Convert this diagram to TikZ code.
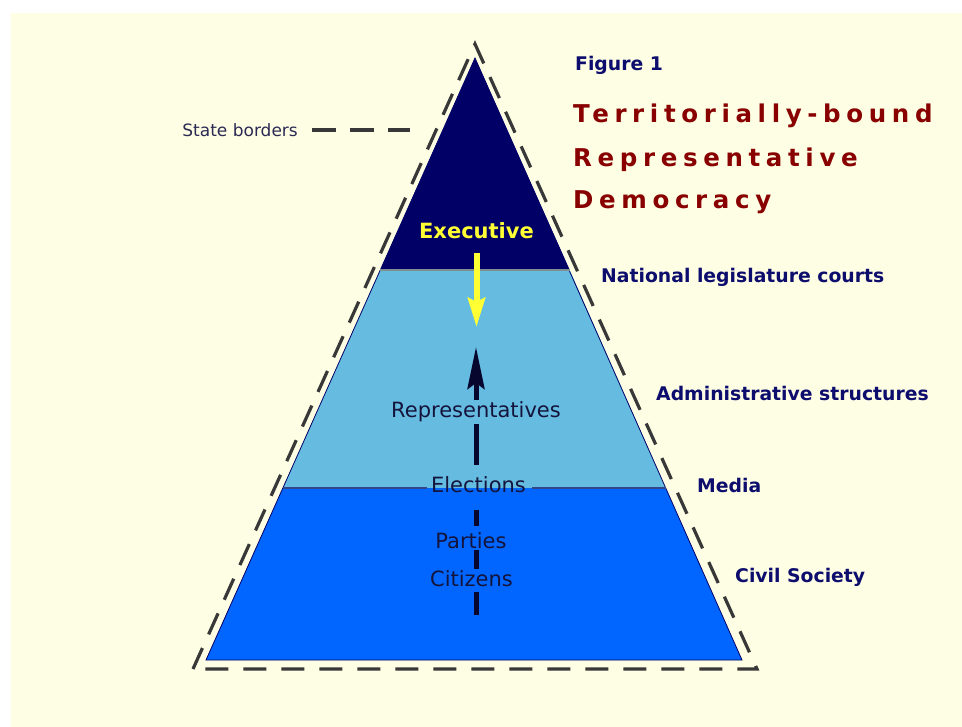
\documentclass[tikz,border=0pt]{standalone}
\usepackage{fontspec}
\setmainfont{DejaVu Sans}
\newfontfamily\titlefont{DejaVu Sans}[LetterSpace=23]
\usetikzlibrary{arrows.meta}
\definecolor{cream}{HTML}{FEFEE4}
\definecolor{navytop}{HTML}{000066}
\definecolor{lightband}{HTML}{66BBE0}
\definecolor{blueband}{HTML}{0066FF}
\definecolor{labelnavy}{HTML}{0D0D6E}
\definecolor{titlered}{HTML}{880000}
\definecolor{innertext}{HTML}{14143C}
\definecolor{dashgray}{HTML}{383838}
\definecolor{sepgray}{HTML}{7F8F8F}
\definecolor{sepblue}{HTML}{33468A}
\definecolor{exyellow}{HTML}{FFFF33}
\definecolor{smalltext}{HTML}{2A2A55}
\definecolor{shaftcol}{HTML}{06062E}
\begin{document}
\begin{tikzpicture}[x=1pt,y=-1pt,
  borderdash/.style={draw=dashgray, line width=3.2pt, dash pattern=on 23pt off 15pt},
  sidelabel/.style={anchor=west, inner sep=0pt, text=labelnavy, font=\fontsize{18.8}{20}\selectfont\bfseries, text height=13.7pt, text depth=0pt},
  innerlabel/.style={inner sep=0pt, text=innertext, font=\fontsize{21}{24}\selectfont, text height=15.3pt, text depth=0pt},
  titleline/.style={anchor=west, inner sep=0pt, text=titlered, font=\fontsize{24.5}{28}\titlefont\bfseries, text height=17.9pt, text depth=0pt},
  blackshaft/.style={draw=shaftcol, line width=5pt},
  yellowshaft/.style={draw=exyellow, line width=6pt}
]
\useasboundingbox (0,0) rectangle (962,727);
\fill[white] (0,0) rectangle (962,727);
\fill[cream] (11,13) rectangle (962,727);

% pyramid bands
\fill[navytop] (475,58) -- (380.3,270) -- (569.7,270) -- cycle;
\fill[lightband] (380.3,270) -- (569.7,270) -- (665.7,488) -- (282.9,488) -- cycle;
\fill[blueband] (282.9,488) -- (665.7,488) -- (742,660) -- (206,660) -- cycle;
\draw[navytop, line width=0.8pt] (475,58) -- (742,660) -- (206,660) -- cycle;
\draw[sepgray, line width=2.5pt] (380.3,270) -- (569.7,270);

% dashed state border
\draw[borderdash] (193,669) -- (475,44) -- (757,669) -- cycle;

% labels inside
\node[innerlabel, font=\fontsize{21}{24}\selectfont\bfseries, text=exyellow] (executive) at (476.5,230.5) {Executive};
\node[innerlabel] (representatives) at (476,410) {Representatives};
\node[innerlabel] (elections) at (478.5,484.5) {Elections};
\node[innerlabel] (parties) at (471,540.5) {Parties};
\node[innerlabel] (citizens) at (471.5,578.5) {Citizens};

% separator around Elections
\coordinate (sepL) at (282.9,488);
\coordinate (sepR) at (665.7,488);
\draw[sepblue, line width=2.5pt, shorten >=4pt] (sepL) -- (elections.west |- sepL);
\draw[sepblue, line width=2.5pt, shorten >=6pt] (sepR) -- (elections.east |- sepR);

% arrows
\coordinate (exectip) at (476.5,327);
\draw[yellowshaft, -{Stealth[length=29pt,width=17pt,inset=4pt]}, shorten <=15pt] (executive.south) -- (exectip);

\coordinate (abase) at (476,615);
\coordinate (atip) at (476,347);
\draw[blackshaft, shorten >=6pt] (abase) -- (abase |- citizens.south);
\draw[blackshaft, shorten <=2pt, shorten >=2pt] (abase |- citizens.north) -- (abase |- parties.south);
\draw[blackshaft, shorten <=7pt, shorten >=18pt] (abase |- parties.north) -- (abase |- elections.south);
\draw[blackshaft, shorten <=12pt, shorten >=6pt] (abase |- elections.north) -- (abase |- representatives.south);
\draw[blackshaft, -{Stealth[length=42pt,width=17pt,inset=6pt]}, shorten <=2pt] (abase |- representatives.north) -- (atip);

% state borders label
\node[anchor=east, inner sep=0pt, text=smalltext, font=\fontsize{17}{20}\selectfont] (stateborders) at (298,130) {State borders};
\coordinate (sbend) at (410,130);
\draw[draw=dashgray, line width=3.2pt, dash pattern=on 24pt off 14pt, shorten <=14pt] (stateborders.east) -- (sbend);

% title
\node[sidelabel, text height=13.7pt] (figure) at (575,64) {Figure 1};
\node[titleline] (t1) at (573,114) {Territorially-bound};
\node[titleline] (t2) at (573,157.5) {Representative};
\node[titleline] (t3) at (573,200) {Democracy};

% side labels
\node[sidelabel] (national) at (601,276) {National legislature courts};
\node[sidelabel] (admin) at (656,394) {Administrative structures};
\node[sidelabel] (media) at (697,486) {Media};
\node[sidelabel] (civil) at (735,576) {Civil Society};
\end{tikzpicture}
\end{document}
